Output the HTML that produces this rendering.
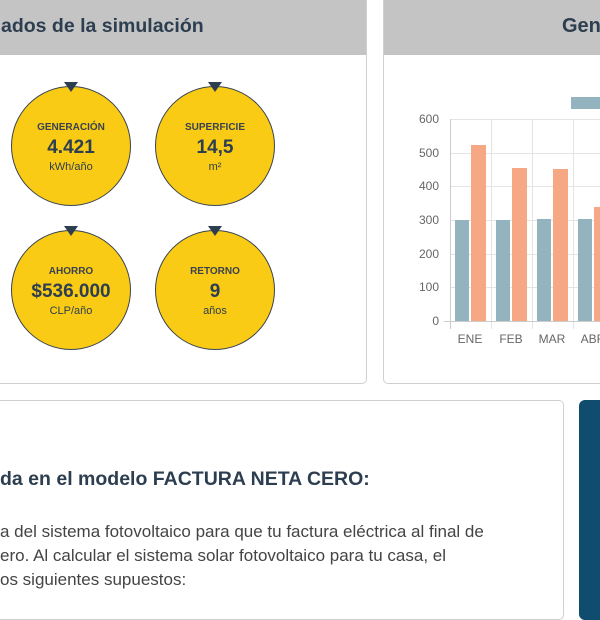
<!DOCTYPE html>
<html><head><meta charset="utf-8"><style>
*{margin:0;padding:0;box-sizing:border-box}
body{width:600px;height:600px;overflow:hidden;background:#fff;font-family:"Liberation Sans",sans-serif;position:relative}
.card{position:absolute;border:1px solid #d0d0d0;border-radius:5px;background:#fff;overflow:hidden}
.hdr{position:absolute;left:0;top:0;right:0;height:54px;background:#c4c4c4}
.t{position:absolute;white-space:nowrap;color:#2d3e50}
.c{position:absolute;width:120px;height:120px;border-radius:50%;background:#f9cb15;border:1px solid #3a4250;text-align:center;color:#2d3e50}
.c .a{font-size:10px;margin-top:35px;font-weight:bold;color:#3a4250}
.c .b{font-size:19px;font-weight:bold;margin-top:4px}
.c .d{font-size:11px;margin-top:2px}
.tri{position:absolute;width:0;height:0;border-left:7px solid transparent;border-right:7px solid transparent;border-top:10px solid #2d3e50}
</style></head><body>
<div class="card" style="left:-10px;top:-10px;width:377px;height:394px">
<div class="hdr" style="height:64px"></div>
<div class="t" style="left:10px;top:24px;font-size:19.5px;font-weight:bold">ados de la simulación</div>
</div>
<div class="c" style="left:11px;top:86px"><div class="a">GENERACIÓN</div><div class="b">4.421</div><div class="d">kWh/año</div></div>
<div class="c" style="left:155px;top:86px"><div class="a">SUPERFICIE</div><div class="b">14,5</div><div class="d">m²</div></div>
<div class="c" style="left:11px;top:230px"><div class="a">AHORRO</div><div class="b">$536.000</div><div class="d">CLP/año</div></div>
<div class="c" style="left:155px;top:230px"><div class="a">RETORNO</div><div class="b">9</div><div class="d">años</div></div>
<div class="tri" style="left:64px;top:82px"></div>
<div class="tri" style="left:208px;top:82px"></div>
<div class="tri" style="left:64px;top:226px"></div>
<div class="tri" style="left:208px;top:226px"></div>

<div class="card" style="left:383px;top:-10px;width:240px;height:394px">
<div class="hdr" style="height:64px"></div>
<div class="t" style="left:178px;top:24px;font-size:20px;font-weight:bold">Gen</div>
</div>
<svg style="position:absolute;left:0;top:0" width="600" height="400" font-family="Liberation Sans" font-size="12" fill="#666">
<rect x="571" y="97" width="30" height="12" fill="#93b4bf"/>
<g stroke="#e4e4e4" stroke-width="1">
<line x1="450" y1="119.5" x2="600" y2="119.5"/><line x1="450" y1="153.5" x2="600" y2="153.5"/><line x1="450" y1="186.5" x2="600" y2="186.5"/><line x1="450" y1="220.5" x2="600" y2="220.5"/><line x1="450" y1="254.5" x2="600" y2="254.5"/><line x1="450" y1="287.5" x2="600" y2="287.5"/>
<line x1="491.5" y1="119" x2="491.5" y2="329"/><line x1="532.5" y1="119" x2="532.5" y2="329"/><line x1="573.5" y1="119" x2="573.5" y2="329"/>
</g>
<line x1="444" y1="321.5" x2="600" y2="321.5" stroke="#ccc"/>
<line x1="450.5" y1="119" x2="450.5" y2="329" stroke="#ccc"/>
<g text-anchor="end"><text x="439" y="123">600</text><text x="439" y="157">500</text><text x="439" y="190">400</text><text x="439" y="224">300</text><text x="439" y="258">200</text><text x="439" y="291">100</text><text x="439" y="325">0</text></g>
<g fill="#93b4bf"><rect x="455" y="220" width="14" height="101"/><rect x="496" y="220" width="14" height="101"/><rect x="537" y="219" width="14" height="102"/><rect x="578" y="219" width="14" height="102"/></g>
<g fill="#f5a883"><rect x="471" y="145" width="15" height="176"/><rect x="512" y="168" width="15" height="153"/><rect x="553" y="169" width="15" height="152"/><rect x="594" y="207" width="15" height="114"/></g>
<g text-anchor="middle"><text x="470" y="343">ENE</text><text x="511" y="343">FEB</text><text x="552" y="343">MAR</text><text x="593" y="343">ABR</text></g>
</svg>

<div class="card" style="left:-10px;top:400px;width:574px;height:220px"></div>
<div class="t" style="left:0;top:468px;font-size:19.5px;font-weight:bold">da en el modelo FACTURA NETA CERO:</div>
<div class="t" style="left:0;top:520px;font-size:17px;color:#444;line-height:24px">a del sistema fotovoltaico para que tu factura eléctrica al final de<br>ero. Al calcular el sistema solar fotovoltaico para tu casa, el<br>os siguientes supuestos:</div>
<div style="position:absolute;left:579px;top:400px;width:40px;height:220px;background:#0f4c6e;border-radius:6px"></div>
</body></html>
